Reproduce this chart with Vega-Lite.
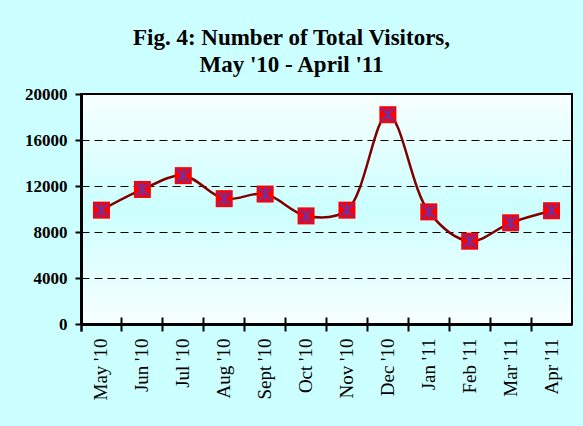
{
  "$schema": "https://vega.github.io/schema/vega-lite/v6.json",
  "width": 491,
  "height": 230,
  "autosize": {"type": "none"},
  "padding": {"left": 81, "top": 94, "right": 11, "bottom": 102},
  "background": "#CCFFFF",
  "title": {
    "text": ["Fig. 4: Number of Total Visitors,", "May '10 - April '11"],
    "font": "Liberation Serif",
    "fontSize": 23,
    "fontWeight": "bold",
    "color": "black",
    "lineHeight": 27.5,
    "anchor": "middle",
    "frame": "group",
    "dx": -35,
    "offset": 8
  },
  "data": {
    "values": [
      {"month": "May '10", "visitors": 9900},
      {"month": "Jun '10", "visitors": 11700},
      {"month": "Jul '10", "visitors": 12900},
      {"month": "Aug '10", "visitors": 10900},
      {"month": "Sept '10", "visitors": 11300},
      {"month": "Oct '10", "visitors": 9400},
      {"month": "Nov '10", "visitors": 9900},
      {"month": "Dec '10", "visitors": 18200},
      {"month": "Jan '11", "visitors": 9750},
      {"month": "Feb '11", "visitors": 7200},
      {"month": "Mar '11", "visitors": 8800},
      {"month": "Apr '11", "visitors": 9850}
    ]
  },
  "layer": [
    {
      "mark": {"type": "line", "interpolate": "catmull-rom", "color": "#800000", "strokeWidth": 2.5},
      "encoding": {
        "x": {
          "field": "month", "type": "ordinal", "sort": null,
          "scale": {"type": "band", "paddingInner": 0, "paddingOuter": 0},
          "axis": {
            "title": null, "orient": "bottom",
            "labelAngle": -90, "labelAlign": "right", "labelBaseline": "middle",
            "labelFont": "Liberation Serif", "labelFontSize": 19, "labelColor": "black",
            "labelPadding": 7, "tickSize": 7, "tickWidth": 2, "tickColor": "black",
            "bandPosition": 0, "tickExtra": true,
            "domainColor": "black", "domainWidth": 3, "grid": false
          }
        },
        "y": {
          "field": "visitors", "type": "quantitative",
          "scale": {"domain": [0, 20000], "nice": false},
          "axis": {
            "title": null, "values": [0, 4000, 8000, 12000, 16000, 20000], "format": "d",
            "labelFont": "Liberation Serif", "labelFontSize": 17, "labelFontWeight": "bold", "labelColor": "black",
            "labelPadding": 8, "tickSize": 6, "tickWidth": 2, "tickColor": "black",
            "domainColor": "black", "domainWidth": 3,
            "grid": true, "gridColor": "black", "gridWidth": 1, "gridDash": [8, 5], "gridOpacity": 1
          }
        }
      }
    },
    {
      "mark": {"type": "point", "shape": "square", "filled": true, "fill": "#FF0000", "strokeWidth": 0, "size": 289, "opacity": 1},
      "encoding": {
        "x": {"field": "month", "type": "ordinal", "sort": null, "axis": null},
        "y": {"field": "visitors", "type": "quantitative"}
      }
    },
    {
      "mark": {"type": "point", "shape": "M-0.78,-0.78L0.78,0.78M0.78,-0.78L-0.78,0.78M0,-0.85L0,0.85", "filled": false, "stroke": "#7030A0", "strokeWidth": 2, "size": 289, "opacity": 1},
      "encoding": {
        "x": {
          "field": "month", "type": "ordinal", "sort": null,
          "axis": {
            "title": null, "orient": "bottom", "labels": false, "domain": false, "grid": false,
            "tickSize": -7, "tickWidth": 2, "tickColor": "black", "bandPosition": 0, "tickExtra": true
          }
        },
        "y": {"field": "visitors", "type": "quantitative"}
      }
    }
  ],
  "resolve": {"axis": {"x": "independent"}},
  "config": {
    "view": {
      "stroke": "black",
      "strokeWidth": 2,
      "fill": {
        "gradient": "linear", "x1": 0, "y1": 0, "x2": 0, "y2": 1,
        "stops": [
          {"offset": 0, "color": "#F8FFFF"},
          {"offset": 0.5, "color": "#CCFFFF"},
          {"offset": 1, "color": "#F8FFFF"}
        ]
      }
    }
  }
}
